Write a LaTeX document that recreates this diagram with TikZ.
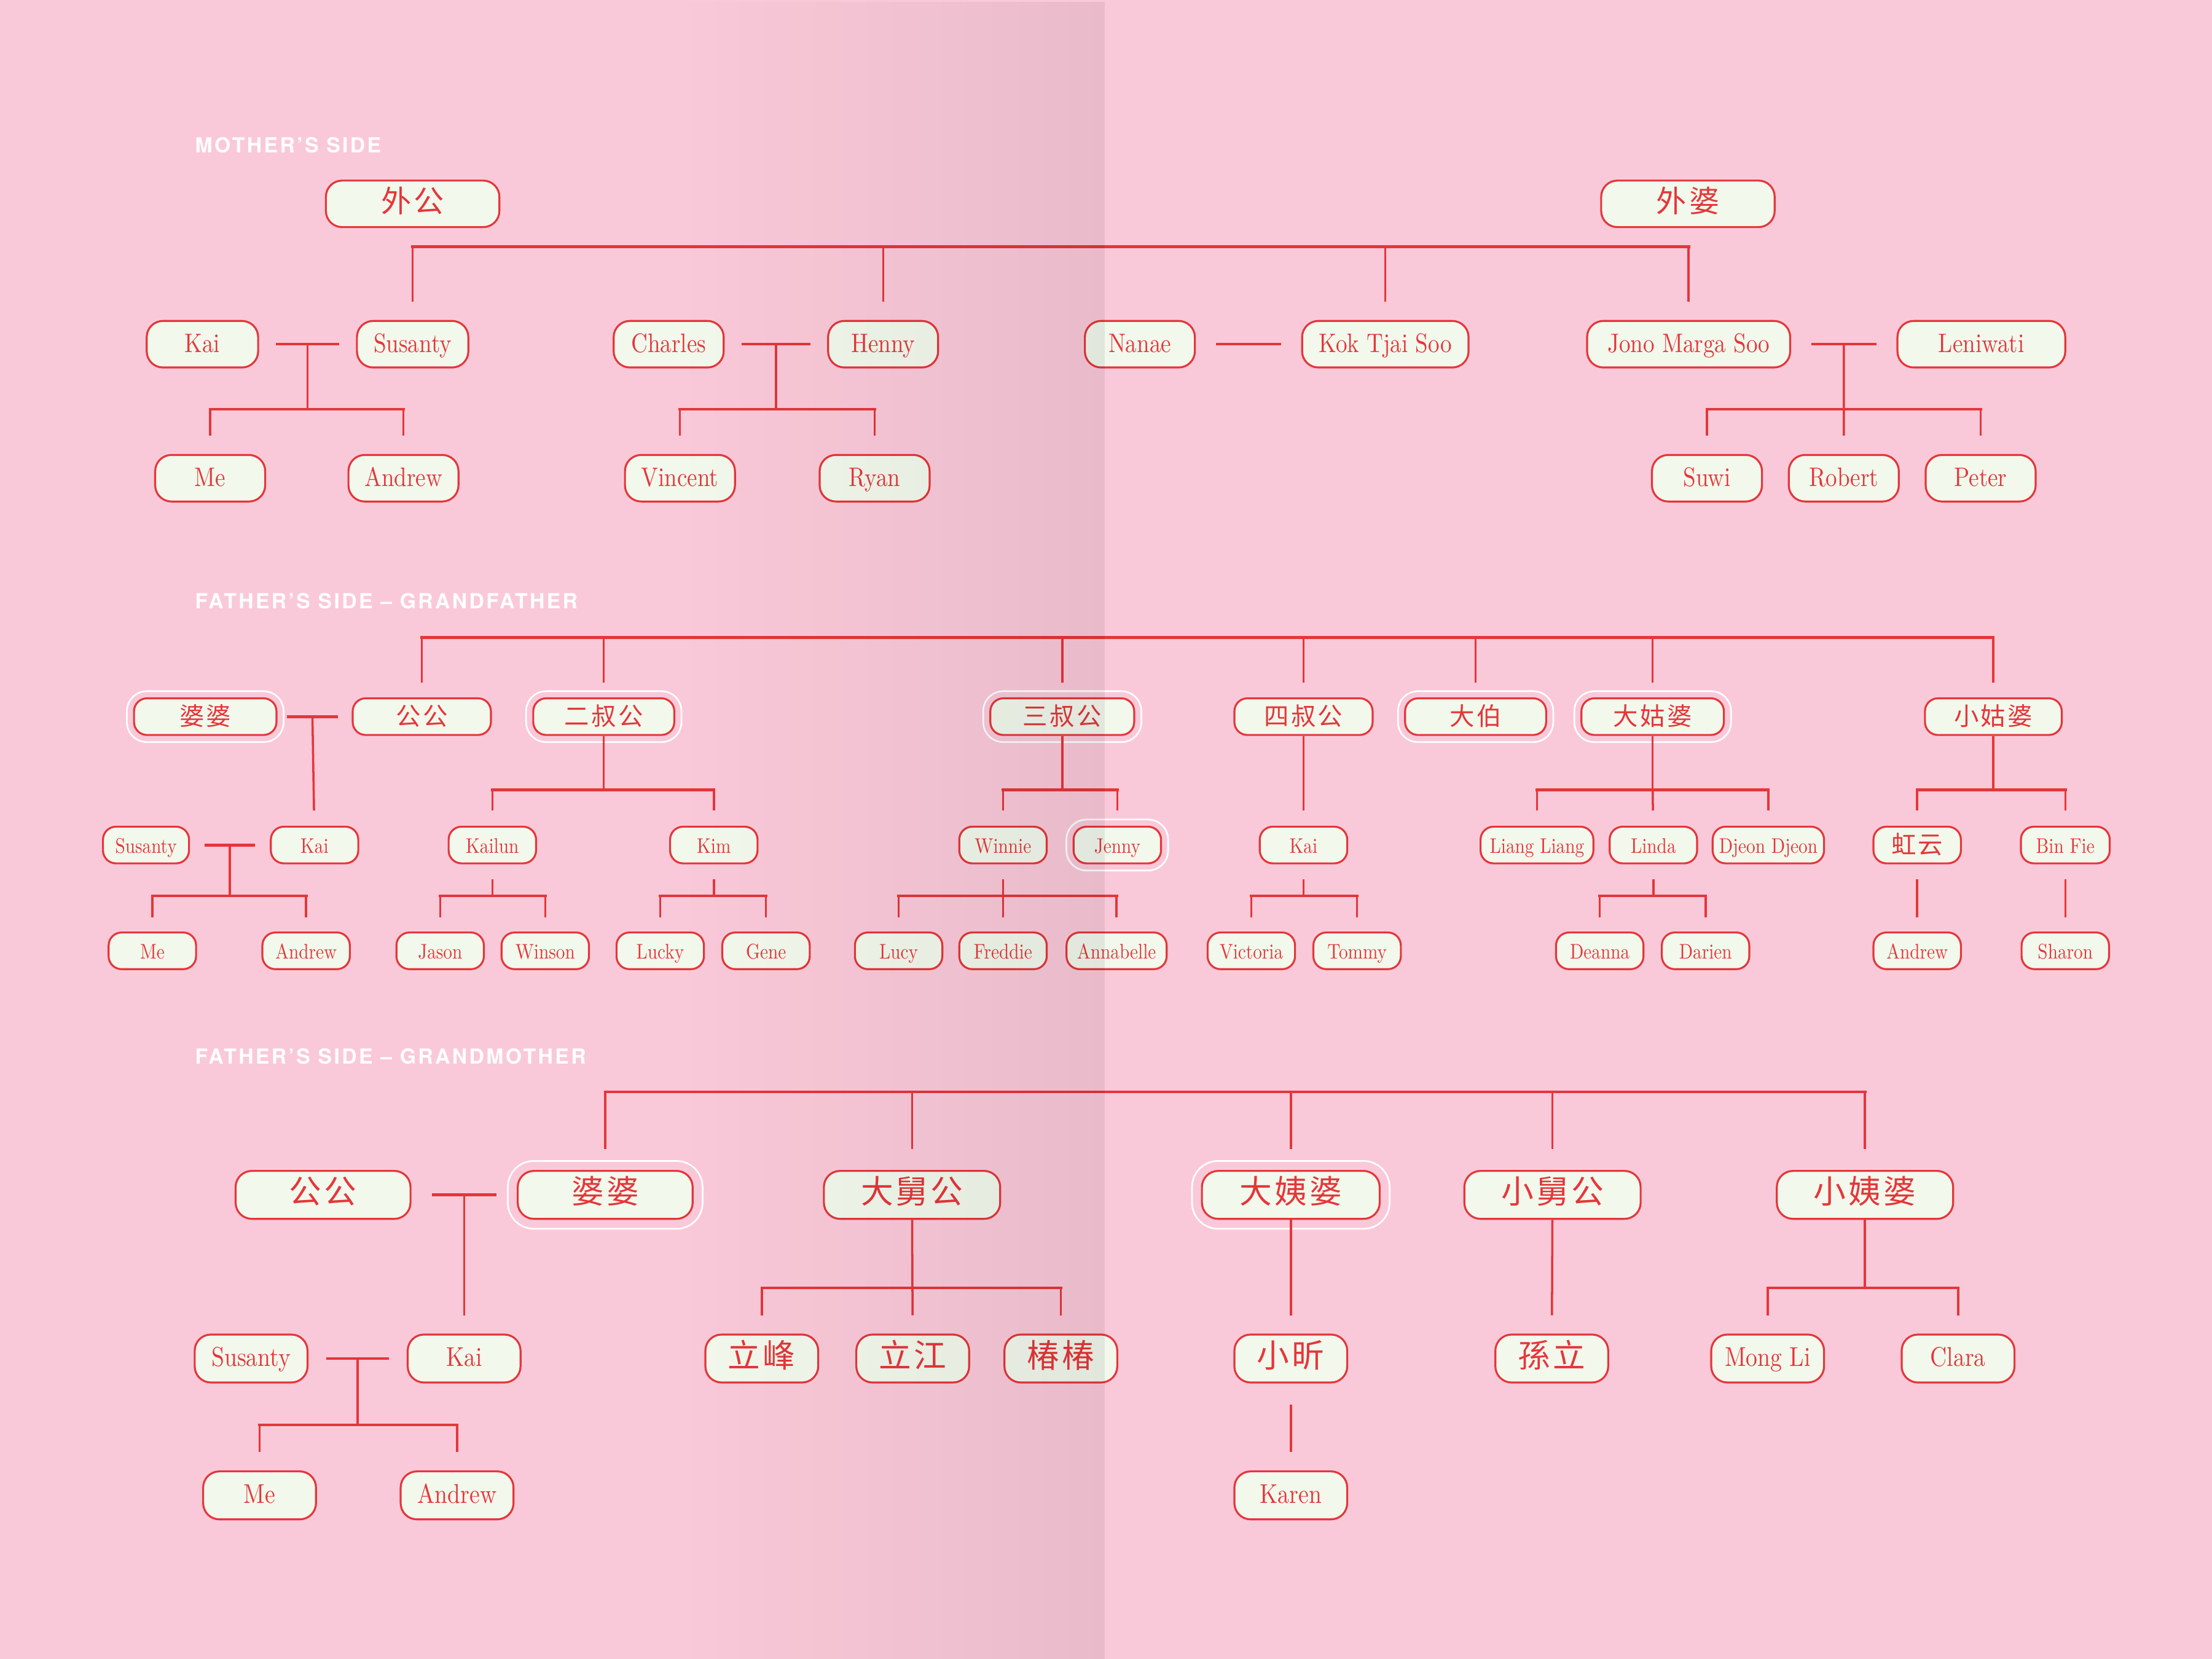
\documentclass[tikz,border=0pt]{standalone}
\usepackage{fontspec}
\setmainfont{lmroman10-regular.otf}[FakeStretch=0.85]
\newfontfamily\cjk{Noto Sans CJK SC}[LetterSpace=8]
\newfontfamily\hdfont{TeX Gyre Heros}[LetterSpace=10]
\usetikzlibrary{calc,fadings}

\definecolor{tpink}{HTML}{FAC9D9}
\definecolor{tcream}{HTML}{F2F8EC}
\definecolor{tred}{HTML}{E5363A}

\tikzfading[name=gutter, left color=transparent!100, right color=transparent!0]

\tikzset{
  person/.style={draw=tred, fill=tcream, line width=0.9pt, inner sep=0pt, text=tred,
    text height=1.85ex, text depth=0.15ex},
  big/.style={person, rounded corners=7.5pt, minimum height=33*0.6533pt,
    minimum width=79*0.6533pt, font=\fontsize{12.4}{14}\selectfont},
  small/.style={person, rounded corners=6pt, minimum height=26*0.6533pt,
    minimum width=62*0.6533pt, font=\fontsize{9.8}{11}\selectfont},
  large/.style={person, rounded corners=7.5pt, minimum height=34*0.6533pt,
    minimum width=80*0.6533pt, font=\fontsize{12.6}{14}\selectfont},
  wd/.style={minimum width=#1*0.6533pt},
  zh/.style={font=\cjk\fontsize{#1}{#1}\selectfont, text height=0.9em, text depth=0.1em},
  halo/.style={preaction={draw=white, line width=2*#1+0.8pt},
    preaction={draw=tpink, line width=2*#1-0.8pt}},
  link/.style={draw=tred, line width=1pt},
  bar/.style={draw=tred, line width=1.3pt, line cap=rect},
  heading/.style={anchor=west, inner sep=0pt, text=white,
    font=\hdfont\bfseries\fontsize{9.6}{10}\selectfont},
}

\begin{document}
\begin{tikzpicture}[x=0.02296cm, y=-0.02296cm]
\fill[tpink] (0,0) rectangle (1568,1176);

% mother's side
\node[heading] (hmom) at (138,103) {MOTHER’S SIDE};
\node[big, wd=123, zh=14] (wgong) at (292.5,144.5) {外公};
\node[big, wd=123, zh=14] (wpo) at (1196.5,144.5) {外婆};

\node[big] (kaiA) at (143.5,244) {Kai};
\node[big] (susA) at (292.5,244) {Susanty};
\node[big, wd=78] (charles) at (474,244) {Charles};
\node[big, wd=78] (henny) at (626,244) {Henny};
\node[big, wd=78] (nanae) at (808,244) {Nanae};
\node[big, wd=118] (kok) at (982,244) {Kok Tjai Soo};
\node[big, wd=144] (jono) at (1197,244) {Jono Marga Soo};
\node[big, wd=119] (leni) at (1404.5,244) {Leniwati};

\node[big, wd=78] (meA) at (149,339) {Me};
\node[big, wd=78] (andA) at (286,339) {Andrew};
\node[big, wd=78] (vincent) at (482,339) {Vincent};
\node[big, wd=78] (ryan) at (620,339) {Ryan};
\node[big, wd=78] (suwi) at (1210,339) {Suwi};
\node[big, wd=78] (robert) at (1307,339) {Robert};
\node[big, wd=78] (peter) at (1404,339) {Peter};

\coordinate (lvA) at (0,175);
\coordinate (lvB) at (0,290);
\draw[bar] (susA |- lvA) -- (jono |- lvA);
\foreach \n in {susA,henny,kok,jono}
  \draw[link, shorten >=8.5pt] (\n |- lvA) -- (\n);

\draw[bar] ([xshift=8.5pt]kaiA.east) -- coordinate (mA) ([xshift=-8.5pt]susA.west);
\draw[link] (mA) -- (mA |- lvB);
\draw[bar] (meA |- lvB) -- (andA |- lvB);
\draw[bar] ([xshift=8.5pt]charles.east) -- coordinate (mB) ([xshift=-8.5pt]henny.west);
\draw[link] (mB) -- (mB |- lvB);
\draw[bar] (vincent |- lvB) -- (ryan |- lvB);
\draw[bar] ([xshift=10pt]nanae.east) -- ([xshift=-10pt]kok.west);
\draw[bar] ([xshift=10pt]jono.east) -- coordinate (mC) ([xshift=-10pt]leni.west);
\draw[link, shorten >=8.5pt] (mC) -- (robert);
\draw[bar] (suwi |- lvB) -- (peter |- lvB);
\foreach \n in {meA,andA,vincent,ryan,suwi,peter}
  \draw[link, shorten >=8.5pt] (\n |- lvB) -- (\n);

% father's side - grandfather
\node[heading] (hgf) at (138,426) {FATHER’S SIDE – GRANDFATHER};
\node[small, wd=101, zh=11.5, halo=3.3pt] (poB) at (145.5,508) {婆婆};
\node[small, wd=98, zh=11.5] (gongB) at (299,508) {公公};
\node[small, wd=100, zh=11.5, halo=3.3pt] (er) at (428,508) {二叔公};
\node[small, wd=102, zh=11.5, halo=3.3pt] (san) at (753,508) {三叔公};
\node[small, wd=98, zh=11.5] (si) at (924,508) {四叔公};
\node[small, wd=100, zh=11.5, halo=3.3pt] (dabo) at (1046,508) {大伯};
\node[small, wd=101, zh=11.5, halo=3.3pt] (dgp) at (1171.5,508) {大姑婆};
\node[small, wd=97, zh=11.5] (xgp) at (1413,508) {小姑婆};

\node[small, wd=61] (susB) at (103.5,599) {Susanty};
\node[small] (kaiB) at (223,599) {Kai};
\node[small] (kailun) at (349,599) {Kailun};
\node[small] (kim) at (506,599) {Kim};
\node[small] (winnie) at (711,599) {Winnie};
\node[small, halo=3.3pt] (jenny) at (792,599) {Jenny};
\node[small] (kaiC) at (924,599) {Kai};
\node[small, wd=80] (liang) at (1089.5,599) {Liang Liang};
\node[small] (linda) at (1172,599) {Linda};
\node[small, wd=79] (djeon) at (1253.5,599) {Djeon Djeon};
\node[small, zh=11.5] (hong) at (1359,599) {虹云};
\node[small, wd=63] (binfie) at (1464,599) {Bin Fie};

\node[small] (meB) at (108,674) {Me};
\node[small] (andB) at (217,674) {Andrew};
\node[small] (jason) at (312,674) {Jason};
\node[small] (winson) at (386.5,674) {Winson};
\node[small] (lucky) at (468,674) {Lucky};
\node[small] (gene) at (543,674) {Gene};
\node[small] (lucy) at (637,674) {Lucy};
\node[small] (freddie) at (711,674) {Freddie};
\node[small, wd=71] (anna) at (791.5,674) {Annabelle};
\node[small] (victoria) at (887,674) {Victoria};
\node[small] (tommy) at (962,674) {Tommy};
\node[small] (deanna) at (1134,674) {Deanna};
\node[small] (darien) at (1209,674) {Darien};
\node[small] (andC) at (1359,674) {Andrew};
\node[small] (sharon) at (1464,674) {Sharon};

\coordinate (lvC) at (0,452);
\coordinate (lvD) at (0,560);
\coordinate (lvE) at (0,635);
\draw[bar] (gongB |- lvC) -- (xgp |- lvC);
\foreach \n in {gongB,er,san,si,dabo,dgp,xgp}
  \draw[link, shorten >=6.9pt] (\n |- lvC) -- (\n);

\draw[bar] ([xshift=5pt]poB.east) -- coordinate (mD) ([xshift=-7pt]gongB.west);
\draw[link, shorten >=7pt] (mD) -- (kaiB);
\draw[bar] ([xshift=7.5pt]susB.east) -- coordinate (mE) ([xshift=-7.5pt]kaiB.west);
\draw[link] (mE) -- (mE |- lvE);
\draw[bar] (meB |- lvE) -- (andB |- lvE);

\foreach \p/\a/\b in {er/kailun/kim, san/winnie/jenny, dgp/liang/djeon, xgp/hong/binfie}{
  \draw[link] (\p) -- (\p |- lvD);
  \draw[bar] (\a |- lvD) -- (\b |- lvD);
}
\draw[link, shorten >=7pt] (si) -- (kaiC);
\draw[link, shorten >=7pt] (dgp |- lvD) -- (linda);

\foreach \p/\a/\b in {kailun/jason/winson, kim/lucky/gene, winnie/lucy/anna,
    kaiC/victoria/tommy, linda/deanna/darien}{
  \draw[link, shorten <=7pt] (\p) -- (\p |- lvE);
  \draw[bar] (\a |- lvE) -- (\b |- lvE);
}
\draw[link, shorten >=6.5pt] (winnie |- lvE) -- (freddie);
\draw[link, shorten <=7pt, shorten >=6.5pt] (hong) -- (andC);
\draw[link, shorten <=7pt, shorten >=6.5pt] (binfie) -- (sharon);
\foreach \n in {kailun,kim,winnie,jenny,liang,djeon,hong,binfie}
  \draw[link, shorten >=7pt] (\n |- lvD) -- (\n);
\foreach \n in {meB,andB,jason,winson,lucky,gene,lucy,anna,victoria,tommy,deanna,darien}
  \draw[link, shorten >=6.5pt] (\n |- lvE) -- (\n);

% father's side - grandmother
\node[heading] (hgm) at (138,749) {FATHER’S SIDE – GRANDMOTHER};
\node[large, wd=124, zh=15] (gongC) at (229,847) {公公};
\node[large, wd=124, zh=15, halo=4.6pt] (poC) at (429,847) {婆婆};
\node[large, wd=125, zh=15] (djg) at (646.5,847) {大舅公};
\node[large, wd=126, zh=15, halo=4.6pt] (dyp) at (915,847) {大姨婆};
\node[large, wd=125, zh=15] (xjg) at (1100.5,847) {小舅公};
\node[large, wd=125, zh=15] (xyp) at (1322,847) {小姨婆};

\node[large] (susC) at (178,963) {Susanty};
\node[large] (kaiD) at (329,963) {Kai};
\node[large, zh=15] (lifeng) at (540,963) {立峰};
\node[large, zh=15] (lijiang) at (647,963) {立江};
\node[large, zh=15] (chun) at (752,963) {椿椿};
\node[large, zh=15] (xin) at (915,963) {小昕};
\node[large, zh=15] (sunli) at (1100,963) {孫立};
\node[large] (mong) at (1253,963) {Mong Li};
\node[large] (clara) at (1388,963) {Clara};

\node[large] (meC) at (184,1060) {Me};
\node[large] (andD) at (324,1060) {Andrew};
\node[large] (karen) at (915,1060) {Karen};

\coordinate (lvF) at (0,774);
\coordinate (lvG) at (0,913);
\coordinate (lvH) at (0,1010);
\draw[bar] (poC |- lvF) -- (xyp |- lvF);
\foreach \n in {poC,djg,dyp,xjg,xyp}
  \draw[link, shorten >=9.8pt] (\n |- lvF) -- (\n);

\draw[bar] ([xshift=10pt]gongC.east) -- coordinate (mF) ([xshift=-10pt]poC.west);
\draw[link, shorten >=8.5pt] (mF) -- (kaiD);
\draw[bar] ([xshift=9pt]susC.east) -- coordinate (mG) ([xshift=-9pt]kaiD.west);
\draw[link] (mG) -- (mG |- lvH);
\draw[bar] (meC |- lvH) -- (andD |- lvH);
\foreach \n in {meC,andD}
  \draw[link, shorten >=8.5pt] (\n |- lvH) -- (\n);

\draw[link, shorten >=8.5pt] (djg) -- (lijiang);
\draw[bar] (lifeng |- lvG) -- (chun |- lvG);
\draw[link] (xyp) -- (xyp |- lvG);
\draw[bar] (mong |- lvG) -- (clara |- lvG);
\foreach \n in {lifeng,chun,mong,clara}
  \draw[link, shorten >=8.5pt] (\n |- lvG) -- (\n);
\draw[link, shorten >=8.5pt] (dyp) -- (xin);
\draw[link, shorten >=8.5pt] (xjg) -- (sunli);
\draw[link, shorten <=9.8pt, shorten >=8.5pt] (xin) -- (karen);

% gutter shadow
\fill[black, opacity=0.065, path fading=gutter] (480,0) rectangle (783,1176);
\end{tikzpicture}
\end{document}
